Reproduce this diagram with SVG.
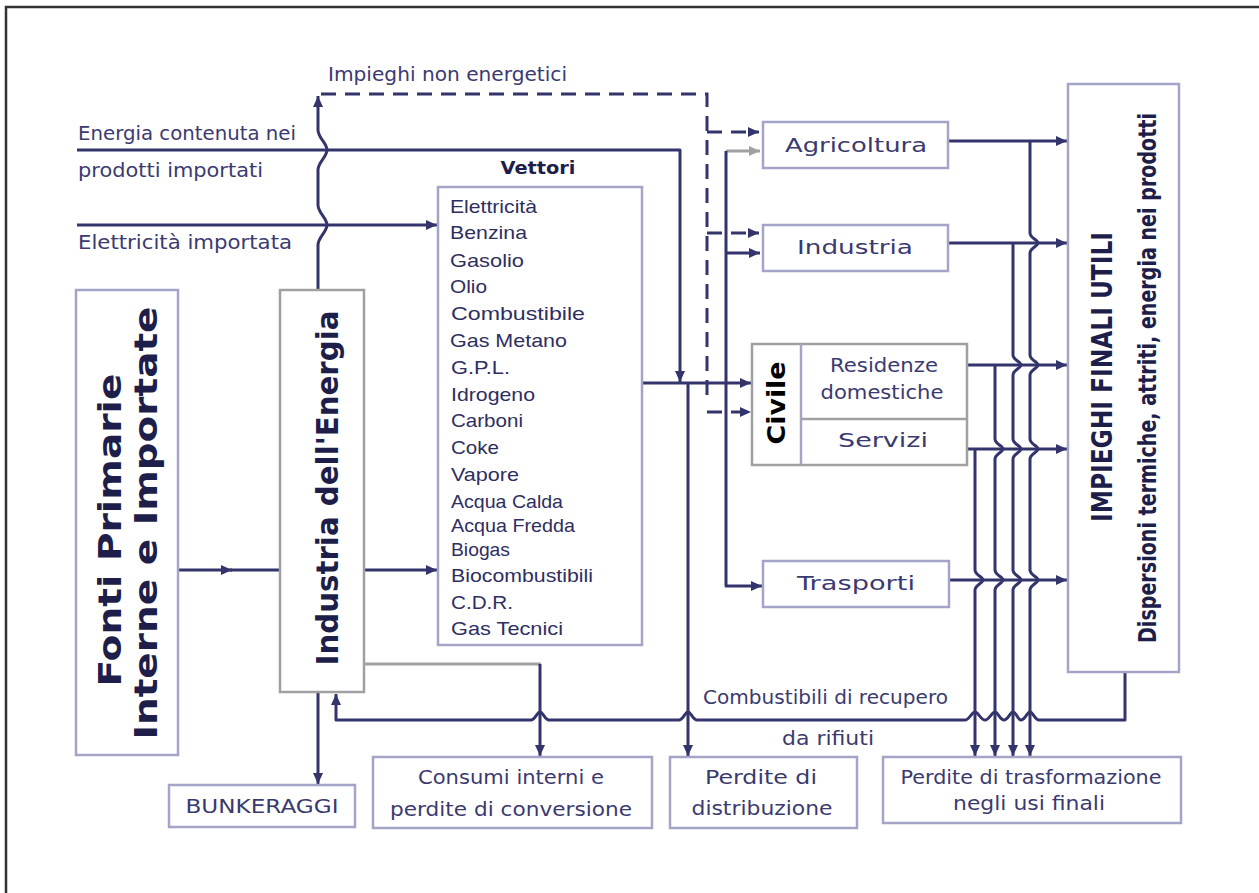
<svg xmlns="http://www.w3.org/2000/svg" width="1259" height="893" viewBox="0 0 1259 893">
<style>
.bx{fill:#fff;stroke:#a4a4c8;stroke-width:2.5}
.bg{fill:#fff;stroke:#a0a0a0;stroke-width:2.5}
.ln{fill:none;stroke:#34346c;stroke-width:3;stroke-linejoin:round}
.ds{fill:none;stroke:#34346c;stroke-width:3;stroke-dasharray:15,9}
.gr{fill:none;stroke:#a0a0a0;stroke-width:3}
.lb{font-family:"DejaVu Sans",sans-serif;font-size:19px;fill:#3a3a70;dominant-baseline:central}
.vt{font-family:"Liberation Sans",Arial,sans-serif;font-size:19px;fill:#2e2e60;dominant-baseline:central}
.bd{font-family:"DejaVu Sans",sans-serif;font-weight:bold;fill:#1e1e4a;dominant-baseline:central;text-anchor:middle}
.cd{font-family:"DejaVu Sans Condensed","DejaVu Sans",sans-serif;font-weight:bold;fill:#1e1e4a;dominant-baseline:central;text-anchor:middle}
.m{text-anchor:middle}
</style>
<defs>
<marker id="a" markerUnits="userSpaceOnUse" markerWidth="12" markerHeight="10" refX="11" refY="5" orient="auto"><path d="M0,0 L11,5 L0,10 z" fill="#34346c"/></marker>
<marker id="ag" markerUnits="userSpaceOnUse" markerWidth="12" markerHeight="10" refX="11" refY="5" orient="auto"><path d="M0,0 L11,5 L0,10 z" fill="#a0a0a0"/></marker>
</defs>
<rect x="6" y="7" width="1262" height="896" fill="#fff" stroke="#333" stroke-width="2.5"/>

<g id="connectors">
<path class="ln" d="M77,150 H680 V382" marker-end="url(#a)"/>
<path class="ln" d="M77,225 H437" marker-end="url(#a)"/>
<path class="ln" d="M318,290 V245 C318,237 327,232 327,225 C327,218 318,213 318,205 V170 C318,162 327,157 327,150 C327,143 318,138 318,130 V96" marker-end="url(#a)"/>
<path class="ds" d="M321,94 H707 V402"/>
<path class="ds" d="M707,132 H759" marker-end="url(#a)"/>
<path class="ds" d="M707,233 H759" marker-end="url(#a)"/>
<path class="ds" d="M707,412 H751" marker-end="url(#a)"/>
<path class="ln" d="M178,570 H232" marker-end="url(#a)"/>
<path class="ln" d="M230,570 H280"/>
<path class="ln" d="M364,570 H437" marker-end="url(#a)"/>
<path class="ln" d="M642,383 H751" marker-end="url(#a)"/>
<path class="gr" d="M726,151 H760" marker-end="url(#ag)"/>
<path class="ln" d="M726,151 V586 H762" marker-end="url(#a)"/>
<path class="ln" d="M726,253 H760" marker-end="url(#a)"/>
<path class="ln" d="M688,383 V756" marker-end="url(#a)"/>
<path class="ln" d="M949,141 H1067" marker-end="url(#a)"/>
<path class="ln" d="M949,243 H1067" marker-end="url(#a)"/>
<path class="ln" d="M967,365 H1067" marker-end="url(#a)"/>
<path class="ln" d="M967,449 H1067" marker-end="url(#a)"/>
<path class="ln" d="M949,580 H1067" marker-end="url(#a)"/>
<path class="ln" d="M1030,141 V233 C1030,238 1038,240 1038,243 C1038,246 1030,248 1030,253 V355 C1030,360 1038,362 1038,365 C1038,368 1030,370 1030,375 V439 C1030,444 1038,446 1038,449 C1038,452 1030,454 1030,459 V570 C1030,575 1038,577 1038,580 C1038,583 1030,585 1030,590 V756" marker-end="url(#a)"/>
<path class="ln" d="M1013,243 V355 C1013,360 1021,362 1021,365 C1021,368 1013,370 1013,375 V439 C1013,444 1021,446 1021,449 C1021,452 1013,454 1013,459 V570 C1013,575 1021,577 1021,580 C1021,583 1013,585 1013,590 V756" marker-end="url(#a)"/>
<path class="ln" d="M995,365 V439 C995,444 1003,446 1003,449 C1003,452 995,454 995,459 V570 C995,575 1003,577 1003,580 C1003,583 995,585 995,590 V756" marker-end="url(#a)"/>
<path class="ln" d="M975,449 V570 C975,575 983,577 983,580 C983,583 975,585 975,590 V756" marker-end="url(#a)"/>
<path class="ln" d="M1125,672 V720 H1039 C1035,720 1033,712 1030,712 C1027,712 1025,720 1021,720 C1018,720 1016,712 1013,712 C1010,712 1008,720 1004,720 C1000,720 998,712 995,712 C992,712 989,720 985,720 C981,720 978,712 975,712 C972,712 969,720 965,720 H697 C693,720 691,712 688,712 C685,712 683,720 679,720 H549 C545,720 543,712 540,712 C537,712 535,720 531,720 H336 V694" marker-end="url(#a)"/>
<path class="gr" d="M364,664 H541"/>
<path class="ln" d="M540,664 V756" marker-end="url(#a)"/>
<path class="ln" d="M318,692 V784" marker-end="url(#a)"/>
</g>

<g id="labels">
<text class="lb" x="328" y="74" textLength="239" lengthAdjust="spacingAndGlyphs">Impieghi non energetici</text>
<text class="lb" x="78" y="133" textLength="218" lengthAdjust="spacingAndGlyphs">Energia contenuta nei</text>
<text class="lb" x="78" y="170" textLength="185" lengthAdjust="spacingAndGlyphs">prodotti importati</text>
<text class="lb" x="78" y="242" textLength="214" lengthAdjust="spacingAndGlyphs">Elettricità importata</text>
<text class="lb" x="703" y="697" textLength="245" lengthAdjust="spacingAndGlyphs">Combustibili di recupero</text>
<text class="lb" x="782" y="738" textLength="92" lengthAdjust="spacingAndGlyphs">da rifiuti</text>
</g>

<g id="fonti">
<rect class="bx" x="76" y="290" width="102" height="465"/>
<text class="bd" font-size="32" transform="translate(110,530) rotate(-90)" textLength="313" lengthAdjust="spacingAndGlyphs">Fonti Primarie</text>
<text class="bd" font-size="32" transform="translate(146,523) rotate(-90)" textLength="433" lengthAdjust="spacingAndGlyphs">Interne e Importate</text>
</g>

<g id="industria-energia">
<rect class="bg" x="280" y="290" width="84" height="402"/>
<text class="bd" font-size="30" transform="translate(327,488) rotate(-90)" textLength="355" lengthAdjust="spacingAndGlyphs">Industria dell'Energia</text>
</g>

<g id="vettori">
<text class="bd" font-size="18" x="538" y="167" textLength="75" lengthAdjust="spacingAndGlyphs">Vettori</text>
<rect class="bx" x="438" y="187" width="204" height="458"/>
<text class="vt" x="450" y="206" textLength="87" lengthAdjust="spacingAndGlyphs">Elettricità</text>
<text class="vt" x="450" y="232" textLength="77" lengthAdjust="spacingAndGlyphs">Benzina</text>
<text class="vt" x="450" y="260" textLength="74" lengthAdjust="spacingAndGlyphs">Gasolio</text>
<text class="vt" x="450" y="286" textLength="37" lengthAdjust="spacingAndGlyphs">Olio</text>
<text class="vt" x="451" y="313" textLength="134" lengthAdjust="spacingAndGlyphs">Combustibile</text>
<text class="vt" x="450" y="340" textLength="117" lengthAdjust="spacingAndGlyphs">Gas Metano</text>
<text class="vt" x="451" y="367" textLength="59" lengthAdjust="spacingAndGlyphs">G.P.L.</text>
<text class="vt" x="451" y="394" textLength="84" lengthAdjust="spacingAndGlyphs">Idrogeno</text>
<text class="vt" x="451" y="420" textLength="72" lengthAdjust="spacingAndGlyphs">Carboni</text>
<text class="vt" x="451" y="447" textLength="48" lengthAdjust="spacingAndGlyphs">Coke</text>
<text class="vt" x="451" y="474" textLength="68" lengthAdjust="spacingAndGlyphs">Vapore</text>
<text class="vt" x="451" y="501" font-size="17" textLength="112" lengthAdjust="spacingAndGlyphs">Acqua Calda</text>
<text class="vt" x="451" y="525" font-size="17" textLength="124" lengthAdjust="spacingAndGlyphs">Acqua Fredda</text>
<text class="vt" x="451" y="549" font-size="17" textLength="59" lengthAdjust="spacingAndGlyphs">Biogas</text>
<text class="vt" x="451" y="575" textLength="142" lengthAdjust="spacingAndGlyphs">Biocombustibili</text>
<text class="vt" x="451" y="602" textLength="62" lengthAdjust="spacingAndGlyphs">C.D.R.</text>
<text class="vt" x="451" y="628" textLength="112" lengthAdjust="spacingAndGlyphs">Gas Tecnici</text>
</g>

<g id="agricoltura">
<rect class="bx" x="763" y="122" width="185" height="46"/>
<text class="lb m" x="856" y="145" textLength="142" lengthAdjust="spacingAndGlyphs">Agricoltura</text>
</g>
<g id="industria">
<rect class="bx" x="763" y="225" width="185" height="46"/>
<text class="lb m" x="855" y="247" textLength="116" lengthAdjust="spacingAndGlyphs">Industria</text>
</g>
<g id="civile">
<rect class="bg" x="752" y="344" width="215" height="121"/>
<line x1="801" y1="344" x2="801" y2="465" stroke="#a4a4c8" stroke-width="2.5"/>
<line x1="801" y1="419" x2="967" y2="419" stroke="#a0a0a0" stroke-width="2.5"/>
<text class="bd" font-size="24" style="fill:#000" transform="translate(777,403) rotate(-90)" textLength="83" lengthAdjust="spacingAndGlyphs">Civile</text>
<text class="lb m" x="884" y="365" textLength="108" lengthAdjust="spacingAndGlyphs">Residenze</text>
<text class="lb m" x="882" y="392" textLength="123" lengthAdjust="spacingAndGlyphs">domestiche</text>
<text class="lb m" x="883" y="440" textLength="90" lengthAdjust="spacingAndGlyphs">Servizi</text>
</g>
<g id="trasporti">
<rect class="bx" x="763" y="561" width="186" height="46"/>
<text class="lb m" x="856" y="583" textLength="118" lengthAdjust="spacingAndGlyphs">Trasporti</text>
</g>

<g id="impieghi">
<rect class="bx" x="1068" y="84" width="111" height="588"/>
<text class="cd" font-size="29" transform="translate(1102,377) rotate(-90)" textLength="290" lengthAdjust="spacingAndGlyphs">IMPIEGHI FINALI UTILI</text>
<text class="cd" font-size="24" transform="translate(1148,378) rotate(-90)" textLength="530" lengthAdjust="spacingAndGlyphs">Dispersioni termiche, attriti, energia nei prodotti</text>
</g>

<g id="bunkeraggi">
<rect class="bx" x="169" y="785" width="186" height="42"/>
<text class="lb m" x="262" y="806" textLength="153" lengthAdjust="spacingAndGlyphs">BUNKERAGGI</text>
</g>
<g id="consumi">
<rect class="bx" x="373" y="757" width="279" height="71"/>
<text class="lb m" x="511" y="777" textLength="186" lengthAdjust="spacingAndGlyphs">Consumi interni e</text>
<text class="lb m" x="511" y="809" textLength="242" lengthAdjust="spacingAndGlyphs">perdite di conversione</text>
</g>
<g id="perdite-distribuzione">
<rect class="bx" x="670" y="757" width="187" height="71"/>
<text class="lb m" x="761" y="777" textLength="112" lengthAdjust="spacingAndGlyphs">Perdite di</text>
<text class="lb m" x="762" y="808" textLength="141" lengthAdjust="spacingAndGlyphs">distribuzione</text>
</g>
<g id="perdite-trasformazione">
<rect class="bx" x="883" y="757" width="298" height="66"/>
<text class="lb m" x="1031" y="777" textLength="261" lengthAdjust="spacingAndGlyphs">Perdite di trasformazione</text>
<text class="lb m" x="1029" y="803" textLength="152" lengthAdjust="spacingAndGlyphs">negli usi finali</text>
</g>
</svg>
